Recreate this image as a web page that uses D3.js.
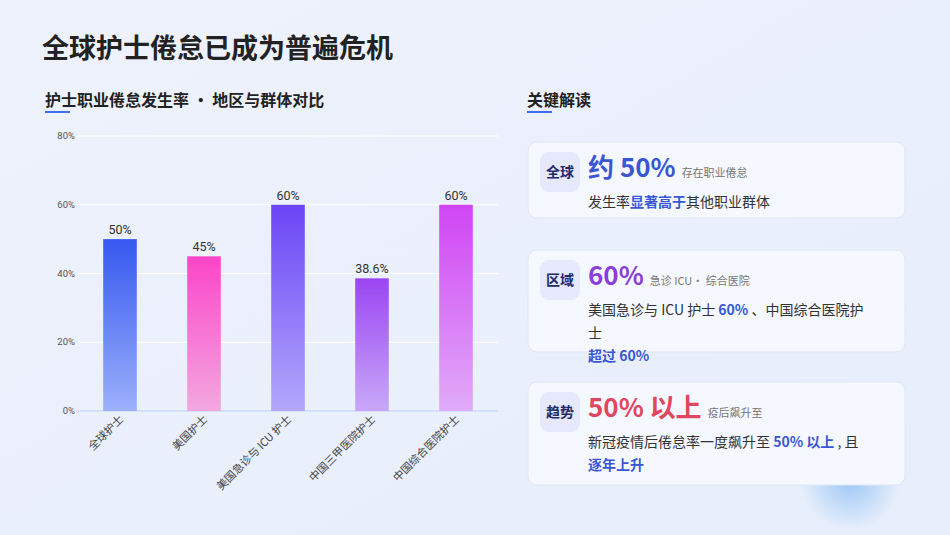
<!DOCTYPE html><html><head><meta charset="utf-8">
<script src="https://cdn.jsdelivr.net/npm/d3@7/dist/d3.min.js"></script>
<style>body{margin:0;font-family:"Noto Sans CJK SC","Noto Sans",sans-serif;}</style></head><body>
<svg id="c" width="950" height="535"></svg>
<script>
const categories=["全球护士","美国护士","美国急诊与 ICU 护士","中国三甲医院护士","中国综合医院护士"];
const values=[50,45,60,38.6,60];
const valueLabels=["50%","45%","60%","38.6%","60%"];
const yTicks=[0,20,40,60,80];
const barTop=["#3558f0","#fb45c8","#6a45f6","#9a45f2","#d145f4"];
const barBot=["#9cb0fb","#f3a8e0","#b3a8fb","#c8a8f8","#e0abf8"];
const svg=d3.select("#c");
const defs=svg.append("defs");
const bg=defs.append("linearGradient").attr("id","bg").attr("x1",0).attr("y1",0).attr("x2",1).attr("y2",1);
bg.append("stop").attr("offset",0).attr("stop-color","#eef2fc");
bg.append("stop").attr("offset",1).attr("stop-color","#e6eefb");
svg.append("rect").attr("width",950).attr("height",535).attr("fill","url(#bg)");
const rg=defs.append("radialGradient").attr("id","blob");
rg.append("stop").attr("offset",0).attr("stop-color","#9cc7f6");
rg.append("stop").attr("offset",1).attr("stop-color","#9cc7f6").attr("stop-opacity",0);
svg.append("circle").attr("cx",850).attr("cy",480).attr("r",50).attr("fill","url(#blob)");
categories.forEach((c,i)=>{const g=defs.append("linearGradient").attr("id","g"+i).attr("x1",0).attr("y1",0).attr("x2",0).attr("y2",1);
g.append("stop").attr("offset",0).attr("stop-color",barTop[i]);g.append("stop").attr("offset",1).attr("stop-color",barBot[i]);});
svg.append("text").attr("x",42).attr("y",58).attr("font-size",27).attr("font-weight",700).attr("fill","#222").text("全球护士倦怠已成为普遍危机");
svg.append("text").attr("x",45).attr("y",106).attr("font-size",16).attr("font-weight",700).attr("fill","#222").text("护士职业倦怠发生率 • 地区与群体对比");
svg.append("rect").attr("x",45).attr("y",111).attr("width",25).attr("height",2).attr("fill","#3b6ff0");
svg.append("text").attr("x",527).attr("y",106).attr("font-size",16).attr("font-weight",700).attr("fill","#222").text("关键解读");
svg.append("rect").attr("x",527).attr("y",111).attr("width",25).attr("height",2).attr("fill","#3b6ff0");
const x=d3.scaleBand().domain(categories).range([78,498]).paddingInner(0.6).paddingOuter(0.3);
const y=d3.scaleLinear().domain([0,80]).range([411,136]);
const gy=svg.append("g");
yTicks.forEach(t=>{gy.append("line").attr("x1",78).attr("x2",498).attr("y1",y(t)).attr("y2",y(t)).attr("stroke",t?"#fff":"#d4e0f7").attr("stroke-width",t?1:2);
gy.append("text").attr("x",75).attr("y",y(t)+3).attr("text-anchor","end").attr("font-size",9.5).attr("fill","#555").attr("font-family","Roboto,sans-serif").text(t+"%");});
svg.selectAll(".b").data(values).enter().append("rect").attr("x",(d,i)=>x(categories[i])).attr("width",x.bandwidth())
.attr("y",d=>y(d)).attr("height",d=>y(0)-y(d)).attr("fill",(d,i)=>`url(#g${i})`);
svg.selectAll(".v").data(values).enter().append("text").attr("x",(d,i)=>x(categories[i])+x.bandwidth()/2).attr("y",d=>y(d)-5)
.attr("text-anchor","middle").attr("font-size",12.5).attr("fill","#333").attr("font-family","Roboto,sans-serif").text((d,i)=>valueLabels[i]);
categories.forEach(c=>{const cx=x(c)+x.bandwidth()/2;svg.append("text").attr("transform",`translate(${cx+4},${420}) rotate(-45)`)
.attr("text-anchor","end").attr("font-size",11).attr("fill","#444").text(c);});
const cards=[{y:142,h:76,badge:"全球",big:"约 50%",bc:"#3a56d4",note:"存在职业倦怠",lines:[[["发生率",0],["显著高于",1],["其他职业群体",0]]]},
{y:250,h:102,badge:"区域",big:"60%",bc:"#8a3fd8",note:"急诊 ICU· 综合医院",lines:[[["美国急诊与 ICU 护士 ",0],["60%",1],[" 、中国综合医院护",0]],[["士",0]],[["超过 60%",1]]]},
{y:382,h:103,badge:"趋势",big:"50% 以上",bc:"#e0475e",note:"疫后飙升至",lines:[[["新冠疫情后倦怠率一度飙升至 ",0],["50% 以上",1],[" , 且",0]],[["逐年上升",1]]]}];
cards.forEach(c=>{const g=svg.append("g");
g.append("rect").attr("x",528).attr("y",c.y).attr("width",377).attr("height",c.h).attr("rx",9).attr("fill","#f5f8fe").attr("stroke","#e0e7f6");
g.append("rect").attr("x",540).attr("y",c.y+10).attr("width",40).attr("height",40).attr("rx",9).attr("fill","#e6e8fb");
g.append("text").attr("x",560).attr("y",c.y+35).attr("text-anchor","middle").attr("font-size",14).attr("font-weight",700).attr("fill","#232a6a").text(c.badge);
const t=g.append("text").attr("x",588).attr("y",c.y+35);
t.append("tspan").attr("font-size",26).attr("font-weight",700).attr("fill",c.bc).text(c.big);
t.append("tspan").attr("dx",6).attr("font-size",11).attr("fill","#777").text(c.note);
c.lines.forEach((ln,k)=>{const tt=g.append("text").attr("x",588).attr("y",c.y+65+k*23).attr("font-size",14);
ln.forEach(s=>tt.append("tspan").attr("fill",s[1]?"#3a56d4":"#333").attr("font-weight",s[1]?700:400).text(s[0]));});});
</script></body></html>
